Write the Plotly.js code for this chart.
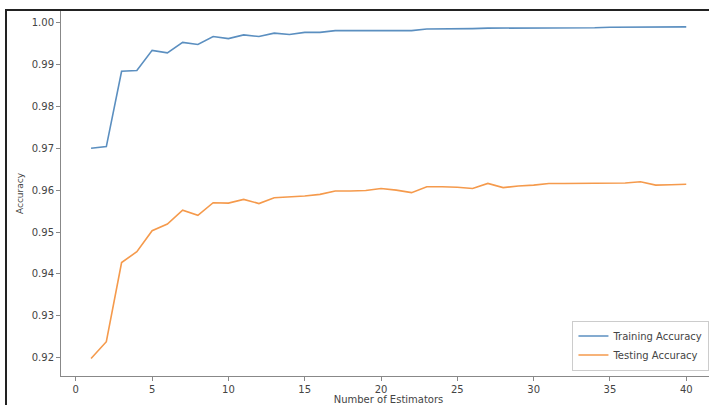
<!DOCTYPE html>
<html>
<head>
<meta charset="utf-8">
<script src="https://cdn.plot.ly/plotly-3.0.1.min.js"></script>
<style>
  html, body { margin: 0; padding: 0; background: #fff; overflow: hidden; width: 709px; height: 405px; }
  #wrap { position: relative; width: 709px; height: 405px; overflow: hidden; }
  #chart { position: absolute; left: 0; top: 0; width: 716px; height: 405px; }
  #frame { position: absolute; left: 5px; top: 9px; width: 720px; height: 420px;
           border-left: 2px solid #222; border-top: 2px solid #222; pointer-events: none; }
</style>
</head>
<body>
<div id="wrap">
  <div id="chart"></div>
  <div id="frame"></div>
</div>
<script>
const estimators = [1,2,3,4,5,6,7,8,9,10,11,12,13,14,15,16,17,18,19,20,21,22,23,24,25,26,27,28,29,30,31,32,33,34,35,36,37,38,39,40];
const trainingAccuracy = [0.9700,0.9704,0.9884,0.9886,0.9934,0.9928,0.9953,0.9948,0.9967,0.9962,
  0.9971,0.9967,0.9975,0.9972,0.9977,0.9977,0.9981,0.9981,0.9982,0.9982,
  0.9982,0.9981,0.9985,0.9985,0.9986,0.9986,0.9987,0.9987,0.9987,0.9987,
  0.9988,0.9988,0.9988,0.9988,0.9989,0.9989,0.9989,0.9989,0.9990,0.9990];
const testingAccuracy = [0.9198,0.9238,0.9427,0.9453,0.9503,0.9519,0.9552,0.9540,0.9570,0.9569,
  0.9578,0.9568,0.9582,0.9584,0.9586,0.9590,0.9598,0.9598,0.9599,0.9604,
  0.9600,0.9594,0.9608,0.9608,0.9607,0.9604,0.9616,0.9606,0.9610,0.9612,
  0.9616,0.9616,0.9616,0.9617,0.9616,0.9617,0.9620,0.9612,0.9613,0.9614];
const xTicks = [0,5,10,15,20,25,30,35,40];
const yTicks = [0.92,0.93,0.94,0.95,0.96,0.97,0.98,0.99,1.00];
const yTickLabels = ["0.92","0.93","0.94","0.95","0.96","0.97","0.98","0.99","1.00"];

const font = {family: "DejaVu Sans, sans-serif", size: 10, color: "#444"};

const data = [
  {x: estimators, y: trainingAccuracy, type: "scatter", mode: "lines", name: "Training Accuracy",
   line: {color: "#5b8fc0", width: 1.6}},
  {x: estimators, y: testingAccuracy, type: "scatter", mode: "lines", name: "Testing Accuracy",
   line: {color: "#f59a4c", width: 1.6}}
];

const layout = {
  width: 716, height: 405,
  margin: {l: 61, r: 0, t: 11, b: 29},
  paper_bgcolor: "#fff", plot_bgcolor: "#fff",
  font: font,
  showlegend: true,
  legend: {x: 0.99, xanchor: "right", y: 0.015, yanchor: "bottom",
           bgcolor: "rgba(255,255,255,0.9)", bordercolor: "#ccc", borderwidth: 1,
           font: {family: "DejaVu Sans, sans-serif", size: 10, color: "#444"}},
  xaxis: {range: [-0.97, 41.95], tickvals: xTicks, ticktext: xTicks.map(String),
          showgrid: false, zeroline: false, showline: true, linecolor: "#888", linewidth: 1, mirror: true,
          ticks: "outside", ticklen: 4, tickcolor: "#888", tickfont: font,
          title: {text: "Number of Estimators", font: font, standoff: 4}},
  yaxis: {range: [0.9156, 1.0028], tickvals: yTicks, ticktext: yTickLabels,
          showgrid: false, zeroline: false, showline: true, linecolor: "#888", linewidth: 1, mirror: true,
          ticks: "outside", ticklen: 4, tickcolor: "#888", tickfont: font,
          title: {text: "Accuracy", font: {family: "DejaVu Sans, sans-serif", size: 9, color: "#444"}, standoff: 6}}
};

Plotly.newPlot("chart", data, layout, {displayModeBar: false, staticPlot: true});
</script>
</body>
</html>
